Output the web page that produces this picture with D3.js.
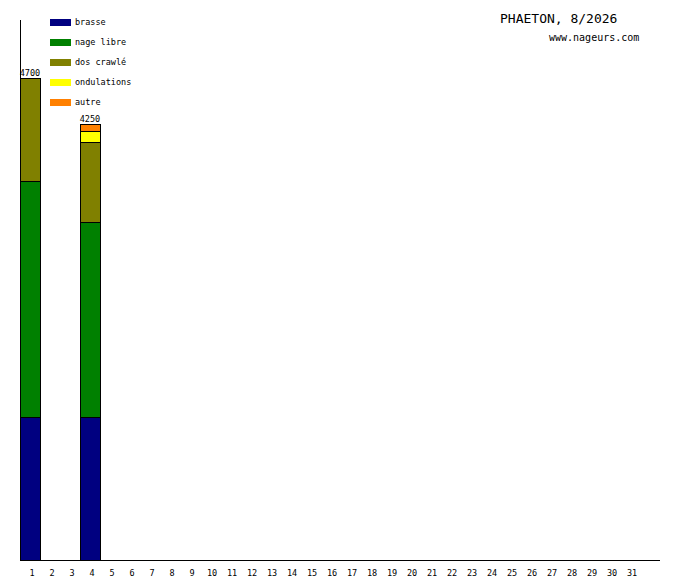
<!DOCTYPE html>
<html>
<head>
<meta charset="utf-8">
<script src="https://cdn.jsdelivr.net/npm/d3@7"></script>
<style>
body{margin:0;background:#fff;}
svg text{font-family:"DejaVu Sans Mono",monospace;}
</style>
</head>
<body>
<svg id="chart" width="680" height="580"></svg>
<script>
var days = ["1","2","3","4","5","6","7","8","9","10","11","12","13","14","15","16","17","18","19","20","21","22","23","24","25","26","27","28","29","30","31"];
var swimDays = ["1","4"];
var strokes = ["brasse","nage libre","dos crawlé","ondulations","autre"];
var strokeColors = ["#000080","#008000","#808000","#ffff00","#ff8000"];
var brasse = [1400,1400];
var nageLibre = [2300,1900];
var dosCrawle = [1000,780];
var ondulations = [0,100];
var autre = [0,70];
var yMax = 5264;

var rows = swimDays.map(function(d,i){
	return {day:d,"brasse":brasse[i],"nage libre":nageLibre[i],"dos crawlé":dosCrawle[i],"ondulations":ondulations[i],"autre":autre[i]};
});

var svg = d3.select("#chart");
var x = d3.scaleBand().domain(days).range([20,640]).paddingInner(0).paddingOuter(0);
var y = d3.scaleLinear().domain([0,yMax]).range([560.6,20]);
var color = d3.scaleOrdinal().domain(strokes).range(strokeColors);

var series = d3.stack().keys(strokes)(rows);
svg.append("g").selectAll("g").data(series).enter().append("g").attr("fill",function(s){return color(s.key);})
.selectAll("rect").data(function(s){return s;}).enter().append("rect")
.filter(function(d){return d[1]-d[0]>0;})
.attr("x",function(d){return x(d.data.day)+0.5;})
.attr("y",function(d){return Math.round(y(d[1]))+0.5;})
.attr("width",x.bandwidth())
.attr("height",function(d){return Math.min(560,Math.round(y(d[0])))-Math.round(y(d[1]));})
.attr("stroke","#000").attr("stroke-width",1).attr("shape-rendering","crispEdges");

svg.selectAll("text.tot").data(rows).enter().append("text").attr("class","tot")
.attr("x",function(d){return x(d.day)+x.bandwidth()/2;})
.attr("y",function(d){return Math.round(y(d3.sum(strokes,function(k){return d[k];})))-2;})
.attr("text-anchor","middle").attr("font-size","8.5px").attr("fill","#000")
.text(function(d){return d3.sum(strokes,function(k){return d[k];});});

svg.append("line").attr("x1",20.5).attr("x2",20.5).attr("y1",20).attr("y2",560).attr("stroke","#000").attr("shape-rendering","crispEdges");
svg.append("line").attr("x1",20).attr("x2",660).attr("y1",560.5).attr("y2",560.5).attr("stroke","#000").attr("shape-rendering","crispEdges");

var ax = svg.append("g").attr("transform","translate(2,567)").call(d3.axisBottom(x).tickSize(0));
ax.select(".domain").remove();
ax.selectAll("text").attr("font-family","DejaVu Sans Mono").attr("font-size","8.5px").attr("fill","#000");

var leg = svg.append("g").selectAll("g").data(strokes).enter().append("g")
.attr("transform",function(d,i){return "translate(50,"+(19+i*20)+")";});
leg.append("rect").attr("width",21).attr("height",7).attr("fill",function(d){return color(d);});
leg.append("text").attr("x",25).attr("y",6).attr("font-size","8.5px").attr("fill","#000").text(function(d){return d;});

svg.append("text").attr("x",500).attr("y",23).attr("font-size","13px").attr("fill","#000").text("PHAETON, 8/2026");
svg.append("text").attr("x",549).attr("y",41).attr("font-size","10px").attr("fill","#000").text("www.nageurs.com");
</script>
</body>
</html>
